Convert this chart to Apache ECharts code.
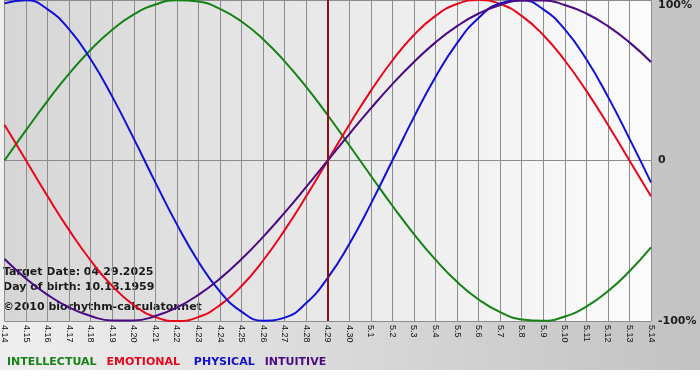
<!DOCTYPE html>
<html>
<head>
<meta charset="utf-8">
<script src="https://cdn.jsdelivr.net/npm/echarts@6/dist/echarts.min.js"></script>
<style>
  html, body { margin: 0; padding: 0; background: #ffffff; }
  #chart { width: 700px; height: 380px; }
</style>
</head>
<body>
<div id="chart"></div>
<script>
// days shown on the x axis
const dates = [
  "4.14", "4.15", "4.16", "4.17", "4.18", "4.19", "4.20", "4.21", "4.22", "4.23",
  "4.24", "4.25", "4.26", "4.27", "4.28", "4.29", "4.30", "5.1", "5.2", "5.3",
  "5.4", "5.5", "5.6", "5.7", "5.8", "5.9", "5.10", "5.11", "5.12", "5.13", "5.14"
];

// cycle values in percent, one per day
const intellectual = [
  0, 18.9, 37.2, 54.1, 69.0, 81.5, 91.0, 97.2, 99.9, 99.0, 94.5, 86.6, 75.6, 61.8, 45.8, 28.2,
  9.5, -9.5, -28.2, -45.8, -61.8, -75.6, -86.6, -94.5, -99.0, -99.9, -97.2, -91.0, -81.5, -69.0, -54.1
];
const emotional = [
  22.3, 0, -22.3, -43.4, -62.3, -78.2, -90.1, -97.5, -100, -97.5, -90.1, -78.2, -62.3, -43.4, -22.3, 0,
  22.3, 43.4, 62.3, 78.2, 90.1, 97.5, 100, 97.5, 90.1, 78.2, 62.3, 43.4, 22.3, 0, -22.3
];
const physical = [
  97.9, 99.8, 94.2, 81.7, 63.1, 39.8, 13.6, -13.6, -39.8, -63.1, -81.7, -94.2, -99.8, -97.9, -88.8, -73.1,
  -52.0, -27.0, 0, 27.0, 52.0, 73.1, 88.8, 97.9, 99.8, 94.2, 81.7, 63.1, 39.8, 13.6, -13.6
];
const intuitive = [
  -61.4, -73.6, -83.7, -91.6, -96.9, -99.7, -99.7, -96.9, -91.6, -83.7, -73.6, -61.4, -47.6, -32.5, -16.5, 0,
  16.5, 32.5, 47.6, 61.4, 73.6, 83.7, 91.6, 96.9, 99.7, 99.7, 96.9, 91.6, 83.7, 73.6, 61.4
];

const targetDay = "4.29";
const infoLines = [
  "Target Date: 04.29.2025",
  "Day of birth: 10.13.1959",
  "\u00a92010 biorhythm-calculator.net"
];

const colors = {
  INTELLECTUAL: "#148214",
  EMOTIONAL: "#e8061c",
  PHYSICAL: "#1010d6",
  INTUITIVE: "#4b0a82"
};

const gridColor = "#8c8c8c";
const boldFont = "DejaVu Sans";

function lineSeries(name, values, extra) {
  return Object.assign({
    name: name,
    type: "line",
    data: values,
    smooth: true,
    showSymbol: false,
    clip: false,
    color: colors[name],
    lineStyle: { width: 2, color: colors[name] }
  }, extra || {});
}

const chart = echarts.init(document.getElementById("chart"), null, { renderer: "canvas" });

chart.setOption({
  animation: false,
  backgroundColor: new echarts.graphic.LinearGradient(0, 0, 1, 0, [
    { offset: 0, color: "#efefef" },
    { offset: 1, color: "#c2c2c2" }
  ]),
  grid: {
    left: 0,
    top: 0,
    width: 651,
    height: 321,
    show: true,
    borderWidth: 0,
    backgroundColor: new echarts.graphic.LinearGradient(0, 0, 1, 0, [
      { offset: 0, color: "#d6d6d6" },
      { offset: 1, color: "#fcfcfc" }
    ])
  },
  legend: {
    left: 2,
    top: 357,
    padding: 0,
    icon: "none",
    itemWidth: 0,
    itemHeight: 0,
    itemGap: 5,
    selectedMode: false,
    formatter: function (name) {
      return name === "EMOTIONAL" ? name + " " : name;
    },
    textStyle: { fontFamily: boldFont, fontWeight: "bold", fontSize: 11 },
    data: Object.keys(colors).map(function (n) {
      return { name: n, textStyle: { color: colors[n] } };
    })
  },
  xAxis: {
    type: "category",
    data: dates,
    boundaryGap: false,
    axisLine: { lineStyle: { color: gridColor, width: 1 } },
    axisTick: { show: true, interval: 0, length: 3, lineStyle: { color: gridColor } },
    axisLabel: {
      interval: 0,
      rotate: -90,
      margin: 4,
      fontSize: 9,
      fontFamily: "Tahoma, 'Liberation Sans', sans-serif",
      color: "#111111"
    },
    splitLine: { show: true, interval: 0, lineStyle: { color: gridColor, width: 1 } }
  },
  yAxis: {
    type: "value",
    position: "right",
    min: -100,
    max: 100,
    interval: 100,
    axisLine: { show: false },
    axisTick: { show: false },
    axisLabel: {
      margin: 7,
      fontFamily: boldFont,
      fontWeight: "bold",
      fontSize: 11,
      color: "#1e1e1e",
      verticalAlignMaxLabel: "top",
      formatter: function (v) { return v === 0 ? "0" : v + "%"; }
    },
    splitLine: { show: true, lineStyle: { color: gridColor, width: 1 } }
  },
  series: [
    lineSeries("INTELLECTUAL", intellectual),
    lineSeries("EMOTIONAL", emotional, {
      markLine: {
        silent: true,
        symbol: "none",
        label: { show: false },
        lineStyle: { color: "#8a1414", width: 2, type: "solid" },
        data: [{ xAxis: targetDay }]
      }
    }),
    lineSeries("PHYSICAL", physical),
    lineSeries("INTUITIVE", intuitive)
  ],
  graphic: [
    {
      type: "rect",
      shape: { x: 0, y: 370, width: 700, height: 10 },
      style: { fill: "#ffffff" },
      silent: true
    }
  ].concat(infoLines.map(function (t, i) {
    return {
      type: "text",
      x: 3,
      y: [272, 287, 307][i],
      silent: true,
      style: {
        text: t,
        fill: "#1a1a1a",
        font: "bold 11px 'DejaVu Sans'",
        verticalAlign: "middle"
      }
    };
  }))
});
</script>
</body>
</html>
